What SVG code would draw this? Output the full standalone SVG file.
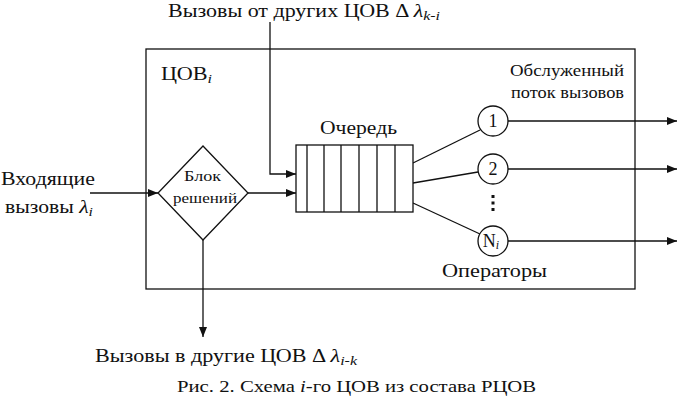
<svg xmlns="http://www.w3.org/2000/svg" width="678" height="404" viewBox="0 0 678 404">
<style>
text{font-family:"Liberation Serif","Times New Roman",serif;fill:#111}
.t18{font-size:18px}
.t16{font-size:16px}
.t14{font-size:14px}
.i{font-style:italic}
.ln{stroke:#111;stroke-width:1.3;fill:none}
.sh{fill:#fff;stroke:#111;stroke-width:1.3}
</style>
<defs>
<marker id="ar" viewBox="0 0 10 10" refX="10" refY="5" markerWidth="10" markerHeight="10" markerUnits="userSpaceOnUse" orient="auto">
<path d="M0,1 L10,5 L0,9 z" fill="#111"/>
</marker>
</defs>
<rect x="0" y="0" width="678" height="404" fill="#fff"/>
<g id="tsov-box">
<rect x="146" y="49" width="489" height="240" class="sh"/>
<text class="t18" x="161" y="80" textLength="51" lengthAdjust="spacingAndGlyphs">ЦОВ<tspan class="i" font-size="13" dy="3">i</tspan></text>
</g>
<g id="connectors">
<polyline class="ln" points="270,22 270,174 296,174" marker-end="url(#ar)"/>
<line class="ln" x1="90" y1="193" x2="158" y2="193" marker-end="url(#ar)"/>
<line class="ln" x1="248" y1="193" x2="296" y2="193" marker-end="url(#ar)"/>
<line class="ln" x1="203" y1="240" x2="203" y2="337" marker-end="url(#ar)"/>
<line class="ln" x1="413" y1="163" x2="480" y2="130"/>
<line class="ln" x1="413" y1="183" x2="478" y2="172"/>
<line class="ln" x1="413" y1="203" x2="480" y2="234"/>
<line class="ln" x1="508" y1="121" x2="677" y2="121" marker-end="url(#ar)"/>
<line class="ln" x1="508" y1="169" x2="677" y2="169" marker-end="url(#ar)"/>
<line class="ln" x1="508" y1="241" x2="677" y2="241" marker-end="url(#ar)"/>
</g>
<g id="decision">
<polygon class="sh" points="203,146 248,193 203,240 158,193"/>
<text class="t14" x="184" y="181" textLength="37" lengthAdjust="spacingAndGlyphs">Блок</text>
<text class="t14" x="173" y="203" textLength="64" lengthAdjust="spacingAndGlyphs">решений</text>
</g>
<g id="queue">
<rect x="296" y="145" width="117" height="67" class="sh"/>
<path class="ln" d="M307,145V212M324,145V212M341,145V212M359,145V212M377,145V212M395,145V212"/>
<text class="t18" x="320" y="134" textLength="77" lengthAdjust="spacingAndGlyphs">Очередь</text>
</g>
<g id="op1">
<circle cx="493" cy="121" r="15" class="sh"/>
<text class="t18" x="493" y="127" text-anchor="middle">1</text>
</g>
<g id="op2">
<circle cx="493" cy="169" r="15" class="sh"/>
<text class="t18" x="493" y="175" text-anchor="middle">2</text>
</g>
<g id="dots">
<rect x="491.5" y="195" width="3" height="3" fill="#111"/>
<rect x="491.5" y="201.5" width="3" height="3" fill="#111"/>
<rect x="491.5" y="208" width="3" height="3" fill="#111"/>
</g>
<g id="opN">
<circle cx="493" cy="241" r="15" class="sh"/>
<text class="t18" x="491" y="247" text-anchor="middle">N<tspan class="i" font-size="12" dy="2">i</tspan></text>
</g>
<g id="labels">
<text class="t18" x="168" y="17" textLength="272" lengthAdjust="spacingAndGlyphs">Вызовы от других ЦОВ Δ <tspan class="i">λ</tspan><tspan class="i" font-size="13" dy="3">k-i</tspan></text>
<text class="t16" x="510" y="76" textLength="114" lengthAdjust="spacingAndGlyphs">Обслуженный</text>
<text class="t16" x="511" y="98" textLength="113" lengthAdjust="spacingAndGlyphs">поток вызовов</text>
<text class="t18" x="442" y="277" textLength="105" lengthAdjust="spacingAndGlyphs">Операторы</text>
<text class="t18" x="1" y="185" textLength="94" lengthAdjust="spacingAndGlyphs">Входящие</text>
<text class="t18" x="5" y="213" textLength="88" lengthAdjust="spacingAndGlyphs">вызовы <tspan class="i">λ</tspan><tspan class="i" font-size="13" dy="3">i</tspan></text>
<text class="t18" x="95" y="362" textLength="262" lengthAdjust="spacingAndGlyphs">Вызовы в другие ЦОВ Δ <tspan class="i">λ</tspan><tspan class="i" font-size="13" dy="3">i-k</tspan></text>
<text class="t16" x="177" y="392" textLength="359" lengthAdjust="spacingAndGlyphs">Рис. 2. Схема <tspan class="i">i</tspan>-го ЦОВ из состава РЦОВ</text>
</g>
</svg>
